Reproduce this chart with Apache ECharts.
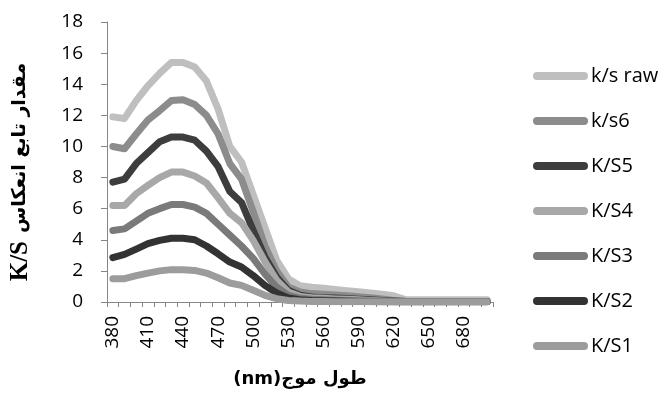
<!DOCTYPE html>
<html>
<head>
<meta charset="utf-8">
<script src="https://cdn.jsdelivr.net/npm/echarts@6/dist/echarts.min.js"></script>
<style>
html,body{margin:0;padding:0;background:#fff;}
#c{width:659px;height:393px;}
</style>
</head>
<body>
<div id="c"></div>
<script>
var wavelengths = ['380','390','400','410','420','430','440','450','460','470','480','490','500','510','520','530','540','550','560','570','580','590','600','610','620','630','640','650','660','670','680','690','700'];
var seriesNames = ['k/s raw','k/s6','K/S5','K/S4','K/S3','K/S2','K/S1'];
var ksRaw = [11.9,11.8,12.95,13.9,14.7,15.4,15.4,15.1,14.2,12.4,10.0,9.0,6.9,4.8,2.7,1.5,1.05,0.95,0.88,0.8,0.73,0.66,0.58,0.5,0.4,0.15,0.15,0.15,0.15,0.15,0.15,0.15,0.15];
var ks6 = [10.0,9.85,10.8,11.7,12.3,12.95,13.0,12.7,12.0,10.8,8.9,7.9,5.8,3.6,2.0,0.96,0.64,0.54,0.5,0.45,0.4,0.34,0.28,0.2,0.1,0.05,0.04,0.04,0.04,0.04,0.04,0.04,0.04];
var ks5 = [7.7,7.9,8.9,9.6,10.3,10.6,10.6,10.4,9.7,8.7,7.1,6.4,4.6,2.9,1.6,0.75,0.43,0.32,0.28,0.25,0.22,0.18,0.14,0.1,0.06,0.03,0.03,0.03,0.03,0.03,0.03,0.03,0.03];
var ks4 = [6.2,6.2,6.96,7.5,8.0,8.35,8.35,8.1,7.65,6.7,5.7,5.1,3.96,2.6,1.4,0.64,0.36,0.28,0.24,0.2,0.17,0.14,0.1,0.07,0.04,0.02,0.02,0.02,0.02,0.02,0.02,0.02,0.02];
var ks3 = [4.6,4.7,5.2,5.7,6.0,6.27,6.27,6.1,5.7,5.0,4.3,3.6,2.8,1.8,0.96,0.43,0.25,0.18,0.15,0.12,0.1,0.08,0.06,0.04,0.02,0.01,0.01,0.01,0.01,0.01,0.01,0.01,0.01];
var ks2 = [2.85,3.06,3.4,3.75,3.96,4.1,4.1,4.0,3.6,3.1,2.57,2.25,1.7,1.07,0.58,0.26,0.15,0.1,0.08,0.06,0.05,0.04,0.03,0.02,0.01,0.01,0.01,0.01,0.01,0.01,0.01,0.01,0.01];
var ks1 = [1.5,1.5,1.7,1.86,2.0,2.08,2.08,2.03,1.86,1.56,1.22,1.07,0.75,0.43,0.21,0.1,0.06,0.04,0.03,0.02,0.02,0.01,0.01,0.01,0.01,0.01,0.01,0.01,0.01,0.01,0.01,0.01,0.01];
var yTicks = [0,2,4,6,8,10,12,14,16,18];

var seriesData = [ksRaw, ks6, ks5, ks4, ks3, ks2, ks1];
var colors = ['#bfbfbf','#8c8c8c','#3d3d3d','#a8a8a8','#7a7a7a','#333333','#9c9c9c'];

var chart = echarts.init(document.getElementById('c'), null, {renderer:'canvas'});
var series = seriesNames.map(function(n, i){
  return {
    name: n, type: 'line', data: seriesData[i],
    symbol: 'none', showSymbol: false, smooth: false,
    lineStyle: {width: 7, color: colors[i], cap: 'round', join: 'round'},
    itemStyle: {color: colors[i]},
    emphasis: {disabled: true}
  };
});
var font = '"Open Sans", "DejaVu Sans", sans-serif';
chart.setOption({
  animation: false,
  color: colors,
  grid: {left: 92, right: 166, top: 22, bottom: 91, containLabel: false},
  legend: {
    orient: 'vertical', left: 528, top: 61,
    itemWidth: 55, itemHeight: 8, itemGap: 25,
    icon: 'path://M4,0 L51,0 A4,4 0 0 1 51,8 L4,8 A4,4 0 0 1 4,0 Z',
    textStyle: {fontFamily: font, fontSize: 20, color: '#000', padding: [0,0,0,-2]},
    data: seriesNames
  },
  xAxis: {
    type: 'category', data: wavelengths, boundaryGap: true,
    axisLine: {lineStyle: {color: '#868686', width: 1}},
    axisTick: {show: true, interval: 0, length: 5, lineStyle: {color: '#868686'}},
    axisLabel: {interval: 2, rotate: 90, margin: 14, fontFamily: font, fontSize: 19, color: '#000'},
    splitLine: {show: false},
    name: '(nm)طول موج', nameLocation: 'middle', nameGap: 68,
    nameTextStyle: {fontFamily: '"DejaVu Sans", "Liberation Sans", sans-serif', fontWeight: 'bold', fontSize: 18, color: '#000'}
  },
  yAxis: {
    type: 'value', min: 0, max: 18, interval: 2,
    axisLine: {show: true, lineStyle: {color: '#868686', width: 1}},
    axisTick: {show: true, length: 6, lineStyle: {color: '#868686'}},
    axisLabel: {margin: 24, fontFamily: font, fontSize: 19, color: '#000'},
    splitLine: {show: false},
    name: '{a|K/S}{b|مقدار تابع انعکاس}', nameLocation: 'middle', nameGap: 74, nameRotate: 90,
    nameTextStyle: {
      color: '#000',
      padding: [0, 20, 0, 0],
      rich: {
        a: {fontFamily: '"Liberation Serif", serif', fontWeight: 'bold', fontSize: 25, color: '#000', padding: [0, 8, 0, 0]},
        b: {fontFamily: '"DejaVu Sans", sans-serif', fontWeight: 'bold', fontSize: 19, color: '#000'}
      }
    }
  },
  series: series
});
</script>
</body>
</html>
